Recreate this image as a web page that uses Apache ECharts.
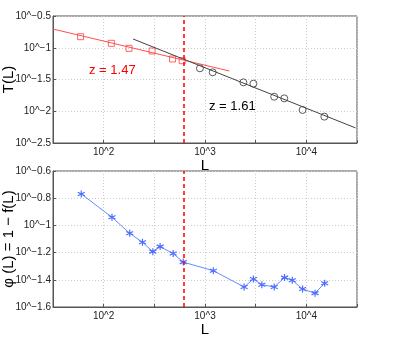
<!DOCTYPE html>
<html>
<head>
<meta charset="utf-8">
<script src="https://cdn.jsdelivr.net/npm/echarts@6/dist/echarts.min.js"></script>
<style>
  html, body { margin: 0; padding: 0; background: #fff; }
  #main { width: 395px; height: 346px; }
</style>
</head>
<body>
<div id="main"></div>
<script>
// all values are log10 of the plotted quantity
const squareL = [1.772, 2.076, 2.250, 2.478, 2.680, 2.775]
const squareT = [-0.826, -0.930, -1.009, -1.051, -1.177, -1.204]
const circleL = [2.950, 3.076, 3.379, 3.478, 3.683, 3.782, 3.963, 4.178]
const circleT = [-1.324, -1.387, -1.545, -1.566, -1.771, -1.797, -1.980, -2.085]
const fitRedL = [1.5, 3.24]
const fitRedT = [-0.705, -1.366]
const fitBlackL = [2.29, 4.485]
const fitBlackT = [-0.862, -2.262]
const phiL = [1.779, 2.082, 2.257, 2.383, 2.485, 2.557, 2.686, 2.785, 3.082, 3.386, 3.478, 3.561, 3.683, 3.785, 3.861, 3.963, 4.086, 4.181]
const phiV = [-0.769, -0.940, -1.058, -1.124, -1.193, -1.156, -1.207, -1.270, -1.333, -1.453, -1.394, -1.436, -1.453, -1.384, -1.403, -1.468, -1.498, -1.425]
const cutL = 2.792
const fitLabels = ['z = 1.47', 'z = 1.61']

const zip = (a, b) => a.map((v, i) => [v, b[i]])
const font = 'Liberation Sans, Arial, sans-serif'
const minus = s => String(s).replace('-', '\u2212')
const powLabel = v => '10^' + minus(+v.toFixed(1))

const xAxisBase = (idx) => ({
  gridIndex: idx,
  type: 'value',
  min: 1.5,
  max: 4.5,
  interval: 0.5,
  name: 'L',
  nameLocation: 'middle',
  nameGap: 15,
  nameTextStyle: {fontFamily: font, fontSize: 15, color: '#000'},
  axisLine: {show: true, onZero: false, lineStyle: {color: '#555', width: 1}},
  axisTick: {show: true, inside: true, length: 3, lineStyle: {color: '#555'}},
  axisLabel: {
    fontFamily: font, fontSize: 10, color: '#222', margin: 4,
    formatter: v => Number.isInteger(v) && v > 1.5 && v < 4.5 ? '10^' + v : ''
  },
  splitLine: {show: true, lineStyle: {color: '#ccc', type: [1, 2], width: 1}}
})

const yAxisBase = (idx, min, max, interval, name, gap) => ({
  gridIndex: idx,
  type: 'value',
  min: min,
  max: max,
  interval: interval,
  name: name,
  nameLocation: 'middle',
  nameGap: gap,
  nameMoveOverlap: false,
  nameTextStyle: {fontFamily: font, fontSize: 15, color: '#000'},
  axisLine: {show: true, onZero: false, lineStyle: {color: '#555', width: 1}},
  axisTick: {show: true, inside: true, length: 3, lineStyle: {color: '#555'}},
  axisLabel: {fontFamily: font, fontSize: 10, color: '#222', margin: 2, formatter: powLabel},
  splitLine: {show: true, lineStyle: {color: '#ccc', type: [1, 2], width: 1}}
})

const cutLine = {
  silent: true,
  symbol: 'none',
  label: {show: false},
  lineStyle: {color: '#ff0000', type: [4, 3], width: 1.5},
  data: [{xAxis: cutL}]
}

const chart = echarts.init(document.getElementById('main'))
const option = {
  animation: false,
  backgroundColor: '#fff',
  grid: [
    {left: 53, right: 38, top: 16, height: 127, show: true, borderColor: '#555', borderWidth: 1, outerBoundsMode: 'none', containLabel: false},
    {left: 53, right: 38, top: 171, height: 136, show: true, borderColor: '#555', borderWidth: 1, outerBoundsMode: 'none', containLabel: false}
  ],
  xAxis: [xAxisBase(0), xAxisBase(1)],
  yAxis: [
    yAxisBase(0, -2.5, -0.5, 0.5, 'T(L)', 37),
    yAxisBase(1, -1.6, -0.6, 0.2, '\u03c6 (L) = 1 \u2212 f(L)', 37)
  ],
  series: [
    {
      type: 'line', xAxisIndex: 0, yAxisIndex: 0,
      data: zip(fitRedL, fitRedT), symbol: 'none',
      lineStyle: {color: '#ff5050', width: 1},
      markLine: cutLine
    },
    {
      type: 'line', xAxisIndex: 0, yAxisIndex: 0,
      data: zip(fitBlackL, fitBlackT), symbol: 'none',
      lineStyle: {color: '#444', width: 1}
    },
    {
      type: 'scatter', xAxisIndex: 0, yAxisIndex: 0,
      data: zip(squareL, squareT), symbol: 'rect', symbolSize: 6,
      itemStyle: {color: 'rgba(0,0,0,0)', borderColor: '#ff4040', borderWidth: 1}
    },
    {
      type: 'scatter', xAxisIndex: 0, yAxisIndex: 0,
      data: zip(circleL, circleT), symbol: 'circle', symbolSize: 7,
      itemStyle: {color: 'rgba(0,0,0,0)', borderColor: '#333', borderWidth: 1}
    },
    {
      type: 'line', xAxisIndex: 1, yAxisIndex: 1,
      data: zip(phiL, phiV),
      symbol: 'path://M0,-5L0,5M-4.3,-2.5L4.3,2.5M-4.3,2.5L4.3,-2.5',
      symbolSize: 7,
      showAllSymbol: true,
      itemStyle: {color: '#4d6dff', borderColor: '#4d6dff', borderWidth: 1.2},
      lineStyle: {color: '#6a8aff', width: 1},
      markLine: cutLine
    }
  ],
  graphic: [
    {type: 'text', left: 89, top: 64, style: {text: fitLabels[0], fill: '#ff0000', font: '13px ' + font}},
    {type: 'text', left: 209, top: 100, style: {text: fitLabels[1], fill: '#000', font: '13px ' + font}}
  ]
}
chart.setOption(option)
</script>
</body>
</html>
